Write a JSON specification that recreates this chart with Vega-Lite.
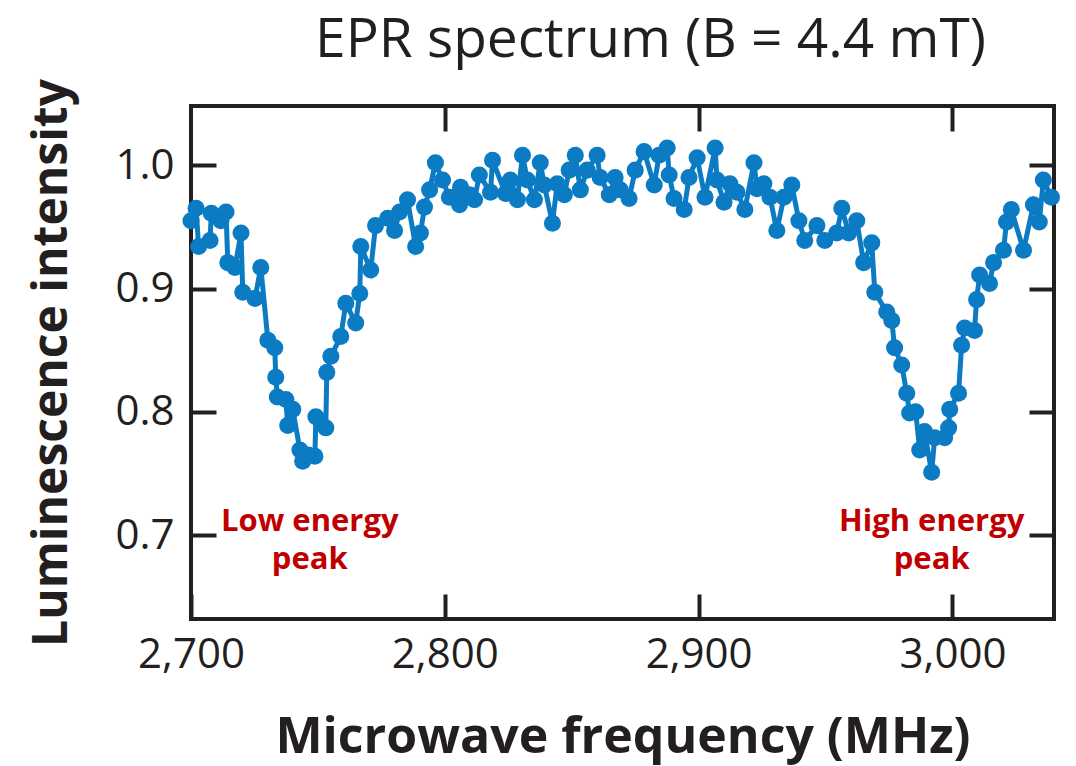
{
  "$schema": "https://vega.github.io/schema/vega-lite/v6.json",
  "autosize": {"type": "none"},
  "padding": {"left": 191, "top": 106, "right": 22, "bottom": 147},
  "width": 863,
  "height": 513,
  "background": "white",
  "title": {
    "text": "EPR spectrum (B = 4.4 mT)",
    "font": "Open Sans",
    "fontSize": 55,
    "fontWeight": "normal",
    "color": "#231f20",
    "anchor": "middle",
    "baseline": "alphabetic",
    "dx": 28,
    "offset": -33
  },
  "datasets": {
    "spectrum": [
      {"f": 2700, "i": 0.955}, {"f": 2702, "i": 0.965}, {"f": 2703, "i": 0.934}, {"f": 2707.5, "i": 0.939},
      {"f": 2708, "i": 0.961}, {"f": 2711.8, "i": 0.955}, {"f": 2713.8, "i": 0.962}, {"f": 2714.5, "i": 0.921},
      {"f": 2717.3, "i": 0.917}, {"f": 2719.7, "i": 0.945}, {"f": 2720.4, "i": 0.897}, {"f": 2725.2, "i": 0.892},
      {"f": 2727.5, "i": 0.917}, {"f": 2730.3, "i": 0.858}, {"f": 2733, "i": 0.852}, {"f": 2733.4, "i": 0.828},
      {"f": 2734, "i": 0.812}, {"f": 2737.4, "i": 0.81}, {"f": 2738.1, "i": 0.789}, {"f": 2740.1, "i": 0.802},
      {"f": 2742.9, "i": 0.769}, {"f": 2744, "i": 0.76}, {"f": 2746.2, "i": 0.765}, {"f": 2748.8, "i": 0.764},
      {"f": 2749.2, "i": 0.796}, {"f": 2753.1, "i": 0.787}, {"f": 2753.5, "i": 0.832}, {"f": 2755.1, "i": 0.845},
      {"f": 2759, "i": 0.861}, {"f": 2761, "i": 0.888}, {"f": 2764.9, "i": 0.872}, {"f": 2766.5, "i": 0.896},
      {"f": 2766.9, "i": 0.934}, {"f": 2770.8, "i": 0.915}, {"f": 2772.7, "i": 0.951}, {"f": 2777.5, "i": 0.957},
      {"f": 2780.2, "i": 0.947}, {"f": 2782.2, "i": 0.962}, {"f": 2785.3, "i": 0.972}, {"f": 2788.5, "i": 0.934},
      {"f": 2790.4, "i": 0.945}, {"f": 2792, "i": 0.966}, {"f": 2794, "i": 0.98}, {"f": 2796.3, "i": 1.002},
      {"f": 2799.1, "i": 0.988}, {"f": 2801.8, "i": 0.974}, {"f": 2805.8, "i": 0.968}, {"f": 2806.2, "i": 0.982},
      {"f": 2809.7, "i": 0.976}, {"f": 2811.7, "i": 0.972}, {"f": 2813.6, "i": 0.992}, {"f": 2818, "i": 0.978},
      {"f": 2818.8, "i": 1.004}, {"f": 2823.9, "i": 0.977}, {"f": 2825.8, "i": 0.988}, {"f": 2828.6, "i": 0.972},
      {"f": 2830.6, "i": 1.008}, {"f": 2832.5, "i": 0.988}, {"f": 2835.3, "i": 0.972}, {"f": 2837.6, "i": 1.002},
      {"f": 2839.2, "i": 0.984}, {"f": 2842.4, "i": 0.953}, {"f": 2844.3, "i": 0.985}, {"f": 2847.1, "i": 0.976},
      {"f": 2849, "i": 0.996}, {"f": 2851.4, "i": 1.008}, {"f": 2853.4, "i": 0.98}, {"f": 2856.1, "i": 0.996},
      {"f": 2860, "i": 1.008}, {"f": 2861.2, "i": 0.99}, {"f": 2864.8, "i": 0.976}, {"f": 2867.1, "i": 0.99},
      {"f": 2869.1, "i": 0.98}, {"f": 2872.6, "i": 0.973}, {"f": 2875, "i": 0.996}, {"f": 2878.5, "i": 1.011},
      {"f": 2882.5, "i": 0.984}, {"f": 2884.4, "i": 1.008}, {"f": 2887.6, "i": 1.014}, {"f": 2888.4, "i": 0.992},
      {"f": 2890.3, "i": 0.973}, {"f": 2894.3, "i": 0.964}, {"f": 2896.2, "i": 0.99}, {"f": 2899.4, "i": 1.006},
      {"f": 2902.5, "i": 0.974}, {"f": 2906.5, "i": 1.014}, {"f": 2907.2, "i": 0.988}, {"f": 2910, "i": 0.97},
      {"f": 2912.3, "i": 0.985}, {"f": 2915.1, "i": 0.978}, {"f": 2918.2, "i": 0.964}, {"f": 2921.8, "i": 1.002},
      {"f": 2923, "i": 0.981}, {"f": 2925.7, "i": 0.985}, {"f": 2928.1, "i": 0.974}, {"f": 2930.8, "i": 0.947},
      {"f": 2933.6, "i": 0.974}, {"f": 2936.7, "i": 0.984}, {"f": 2939.5, "i": 0.955}, {"f": 2941.8, "i": 0.939},
      {"f": 2946.6, "i": 0.951}, {"f": 2949.7, "i": 0.939}, {"f": 2954.4, "i": 0.945}, {"f": 2956.4, "i": 0.965},
      {"f": 2959.1, "i": 0.945}, {"f": 2962.3, "i": 0.955}, {"f": 2965, "i": 0.921}, {"f": 2968.2, "i": 0.937},
      {"f": 2969.4, "i": 0.897}, {"f": 2974.1, "i": 0.881}, {"f": 2976.1, "i": 0.874}, {"f": 2977.2, "i": 0.852},
      {"f": 2980, "i": 0.838}, {"f": 2982, "i": 0.815}, {"f": 2983.1, "i": 0.799}, {"f": 2985.5, "i": 0.8},
      {"f": 2987.1, "i": 0.769}, {"f": 2989, "i": 0.784}, {"f": 2991.8, "i": 0.751}, {"f": 2993, "i": 0.779},
      {"f": 2996.9, "i": 0.779}, {"f": 2998.5, "i": 0.787}, {"f": 2998.9, "i": 0.802}, {"f": 3002.4, "i": 0.815},
      {"f": 3003.6, "i": 0.854}, {"f": 3004.8, "i": 0.868}, {"f": 3008.7, "i": 0.866}, {"f": 3009.5, "i": 0.891},
      {"f": 3010.7, "i": 0.911}, {"f": 3014.6, "i": 0.904}, {"f": 3016.2, "i": 0.921}, {"f": 3020.1, "i": 0.931},
      {"f": 3021.3, "i": 0.954}, {"f": 3023.2, "i": 0.964}, {"f": 3028, "i": 0.931}, {"f": 3031.9, "i": 0.968},
      {"f": 3034.2, "i": 0.954}, {"f": 3035.8, "i": 0.988}, {"f": 3039, "i": 0.974}
    ],
    "peaks": [
      {"f": 2746.8, "i": 0.703, "label": ["Low energy", "peak"]},
      {"f": 2991.8, "i": 0.703, "label": ["High energy", "peak"]}
    ]
  },
  "layer": [
    {
      "data": {"name": "spectrum"},
      "mark": {
        "type": "line",
        "color": "#0b7bc4",
        "strokeWidth": 5,
        "point": {"filled": true, "size": 290, "opacity": 1, "color": "#0b7bc4"}
      },
      "encoding": {
        "x": {
          "field": "f", "type": "quantitative",
          "scale": {"domain": [2700, 3040], "nice": false, "zero": false},
          "axis": {
            "orient": "bottom",
            "values": [2700, 2800, 2900, 3000],
            "format": ",.0f",
            "title": "Microwave frequency (MHz)"
          }
        },
        "y": {
          "field": "i", "type": "quantitative",
          "scale": {"domain": [0.632, 1.048], "nice": false, "zero": false},
          "axis": {
            "orient": "left",
            "values": [0.7, 0.8, 0.9, 1.0],
            "format": ".1f",
            "title": "Luminescence intensity"
          }
        }
      }
    },
    {
      "data": {"name": "peaks"},
      "mark": {
        "type": "text",
        "font": "Open Sans",
        "fontSize": 31,
        "fontWeight": "bold",
        "color": "#c00000",
        "align": "center",
        "baseline": "alphabetic",
        "lineHeight": 38
      },
      "encoding": {
        "x": {
          "field": "f", "type": "quantitative",
          "axis": {"orient": "top", "values": [2800, 2900, 3000], "labels": false, "title": null}
        },
        "y": {
          "field": "i", "type": "quantitative",
          "axis": {"orient": "right", "values": [0.7, 0.8, 0.9, 1.0], "labels": false, "title": null}
        },
        "text": {"field": "label"}
      }
    }
  ],
  "resolve": {"axis": {"x": "independent", "y": "independent"}},
  "config": {
    "view": {"stroke": "#231f20", "strokeWidth": 4},
    "axis": {
      "domain": false,
      "grid": false,
      "ticks": true,
      "tickSize": -25,
      "tickWidth": 4,
      "tickColor": "#231f20",
      "labelFlush": false,
      "labelFont": "Open Sans",
      "labelFontSize": 42,
      "labelColor": "#231f20",
      "titleFont": "Open Sans",
      "titleFontWeight": "bold",
      "titleColor": "#231f20"
    },
    "axisBottom": {"labelPadding": 40, "titleFontSize": 50, "titlePadding": 37},
    "axisLeft": {"labelPadding": 42, "titleFontSize": 48, "titlePadding": 38}
  }
}
